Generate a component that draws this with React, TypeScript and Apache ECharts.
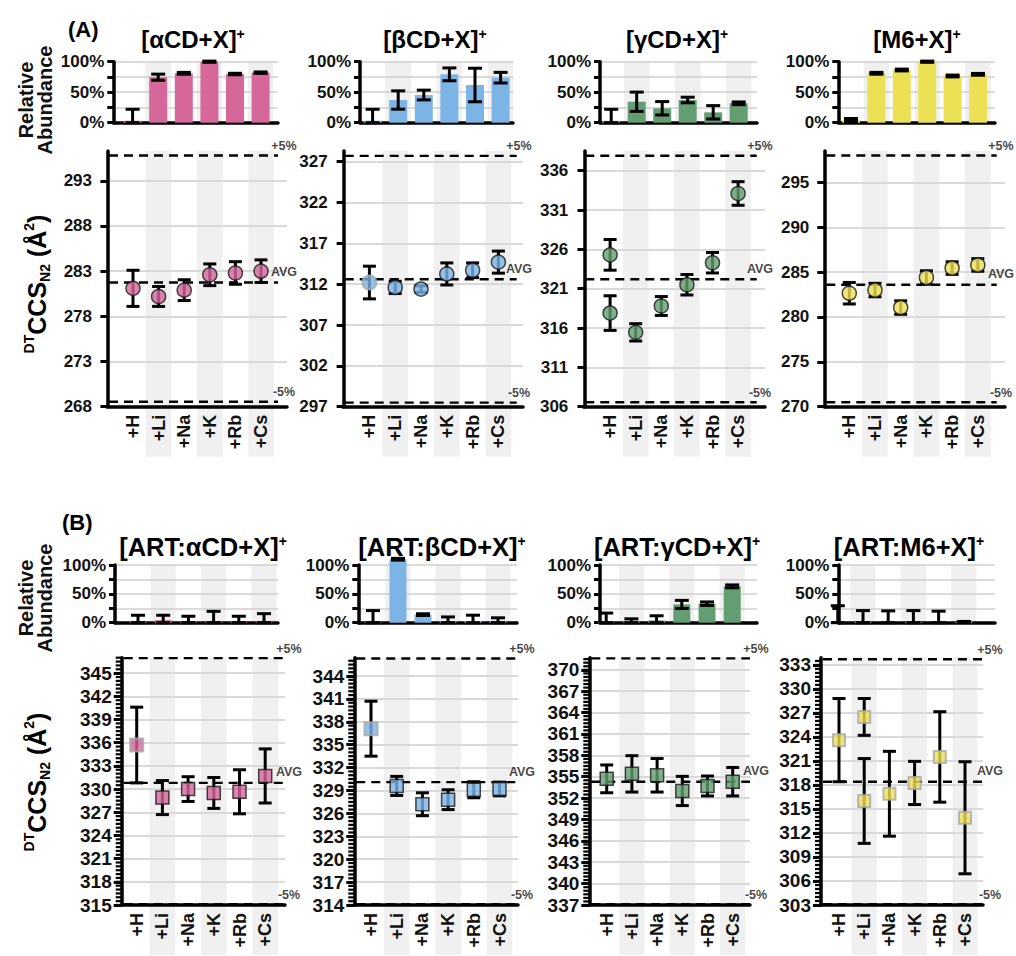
import React, { useEffect, useRef } from 'react';
import * as echarts from 'echarts';

const FONT = '"Liberation Sans", Arial, Helvetica, sans-serif';

// Cation adducts along every x axis
const ions = ['+H', '+Li', '+Na', '+K', '+Rb', '+Cs'];
// 1-based positions of the grey background bands (+Li, +K, +Cs)
const shadedPositions = [2, 4, 6];

// ---------- (A) host + X ----------
const abundAlpha = [3.3, 74.6, 81.0, 100, 79.8, 82.0];
const abundAlphaErr = [18.7, 5.0, 1.5, 1.0, 1.2, 1.2];
const ccsAlpha = [281.1, 280.2, 280.9, 282.6, 282.8, 283.0];
const ccsAlphaErr = [2.0, 1.1, 1.15, 1.2, 1.25, 1.25];
const ticksAlpha = [268, 273, 278, 283, 288, 293];

const abundBeta = [3.3, 37.2, 45.4, 79.3, 61.8, 73.8];
const abundBetaErr = [18.7, 15.0, 8.0, 10.5, 27.5, 8.7];
const ccsBeta = [312.2, 311.6, 311.4, 313.25, 313.7, 314.7];
const ccsBetaErr = [2.0, 0.75, 0.4, 1.35, 0.9, 1.35];
const ticksBeta = [297, 302, 307, 312, 317, 322, 327];

const abundGamma = [3.0, 34.4, 23.6, 37.2, 17.0, 31.8];
const abundGammaErr = [19.0, 15.8, 11.0, 4.6, 11.0, 2.2];
const ccsGamma = [325.3, 315.45, 318.8, 321.5, 324.3, 333.1];
const ccsGammaErr = [1.95, 1.1, 1.2, 1.3, 1.3, 1.5];
const ccsGammaAlt = [317.9, null, null, null, null, null];
const ccsGammaAltErr = [2.2, null, null, null, null, null];
const ticksGamma = [306, 311, 316, 321, 326, 331, 336];

const abundM6 = [4.4, 81.0, 86.4, 100, 76.6, 79.3];
const abundM6Err = [2.5, 1.5, 1.5, 1.0, 1.5, 1.5];
const ccsM6 = [282.65, 283.0, 281.05, 284.4, 285.45, 285.8];
const ccsM6Err = [1.2, 0.75, 0.75, 0.75, 0.7, 0.7];
const ticksM6 = [270, 275, 280, 285, 290, 295];

// ---------- (B) ART:host + X ----------
const abundArtAlpha = [1.5, 4.5, 1.5, 1.5, 1.5, 1.5];
const abundArtAlphaErr = [11.4, 8.4, 9.7, 18.2, 9.7, 14.2];
const ccsArtAlpha = [335.7, 328.9, 330.0, 329.5, 329.65, 331.7];
const ccsArtAlphaErr = [4.9, 2.2, 1.6, 2.0, 2.85, 3.5];
const ticksArtAlpha = [315, 318, 321, 324, 327, 330, 333, 336, 339, 342, 345];

const abundArtBeta = [1.0, 110, 14.0, 2.0, 3.0, 2.0];
const abundArtBetaErr = [20.0, 1.5, 1.5, 8.0, 10.0, 6.5];
const ccsArtBeta = [337.1, 329.6, 327.2, 327.8, 329.1, 329.2];
const ccsArtBetaErr = [3.6, 1.25, 1.5, 1.3, 1.05, 0.9];
const ticksArtBeta = [314, 317, 320, 323, 326, 329, 332, 335, 338, 341, 344];

const abundArtGamma = [1.0, 2.0, 4.0, 31.7, 33.0, 63.0];
const abundArtGammaErr = [15.7, 4.7, 8.0, 7.0, 3.0, 2.5];
const ccsArtGamma = [354.7, 355.4, 355.2, 353.0, 353.7, 354.3];
const ccsArtGammaErr = [1.95, 2.55, 2.35, 2.05, 1.4, 2.0];
const ticksArtGamma = [337, 340, 343, 346, 349, 352, 355, 358, 361, 364, 367, 370];

const abundArtM6 = [0, 1.0, 0, 1.0, 0, 1.5];
const abundArtM6Err = [29.4, 20.0, 20.5, 20.0, 20.0, 0.7];
const ccsArtM6 = [323.6, 326.5, 316.9, 318.25, 321.5, 313.9];
const ccsArtM6Err = [5.2, 2.3, 5.3, 2.7, 5.65, 7.0];
const ccsArtM6Alt = [null, 316.0, null, null, null, null];
const ccsArtM6AltErr = [null, 5.3, null, null, null, null];
const ticksArtM6 = [303, 306, 309, 312, 315, 318, 321, 324, 327, 330, 333];

// average CCS and ±5% reference levels per panel
const avgLevels = [281.75, 312.6, 322.2, 283.6, 330.8, 330.1, 354.3, 318.4];
const plusLevels = [295.8, 327.7, 337.9, 298.0, 346.95, 346.3, 371.6, 333.7];
const minusLevels = [268.55, 297.5, 306.56, 270.5, 315.1, 314.1, 337.1, 303.1];
const axisTops = [296.3, 328.3, 338.5, 298.5, 347.0, 346.4, 371.7, 333.9];

const abundTicks = [0, 25, 50, 75, 100];
const abundLabels = [0, 50, 100];

const PINK = '#d5679a';
const BLUE = '#7cb4e6';
const GREEN = '#639e72';
const YELLOW = '#ece154';

type Row = {
  barTop: number; barBottom: number; scTop: number; scBottom: number; bandExt: number;
  titleSize: number; tickSize: number;
};
const rowA: Row = { barTop: 61.7, barBottom: 122.7, scTop: 151, scBottom: 406.7, bandExt: 50, titleSize: 24, tickSize: 17 };
const rowB: Row = { barTop: 565, barBottom: 622.7, scTop: 657.7, scBottom: 905, bandExt: 50, titleSize: 25.5, tickSize: 19 };

type XMap = { x0: number; step: number; left: number; right: number };

interface Panel {
  title: string;
  titleX: number;
  titleY: number;
  color: string;
  symbol: string;
  symbolSize: number;
  abund: number[];
  abundErr: number[];
  ccs: number[];
  ccsErr: number[];
  ccsAlt?: (number | null)[];
  ccsAltErr?: (number | null)[];
  faint: boolean[];
  ticks: number[];
  minor: boolean;
  row: Row;
  s: XMap & { lineEnd: number; label: number };
  b: XMap;
  barWidth: number;
}

const F = false;
const T = true;

const panels: Panel[] = [
  {
    title: '[αCD+X]', titleX: 193, titleY: 39, color: PINK, symbol: 'circle', symbolSize: 14,
    abund: abundAlpha, abundErr: abundAlphaErr, ccs: ccsAlpha, ccsErr: ccsAlphaErr,
    faint: [F, F, F, F, F, F], ticks: ticksAlpha, minor: false, row: rowA,
    s: { x0: 107.4, step: 25.6, left: 107, right: 287, lineEnd: 278, label: 284 },
    b: { x0: 107, step: 25.6, left: 113.3, right: 278 }, barWidth: 18,
  },
  {
    title: '[βCD+X]', titleX: 435, titleY: 39, color: BLUE, symbol: 'circle', symbolSize: 14,
    abund: abundBeta, abundErr: abundBetaErr, ccs: ccsBeta, ccsErr: ccsBetaErr,
    faint: [T, F, F, F, F, F], ticks: ticksBeta, minor: false, row: rowA,
    s: { x0: 343.6, step: 25.8, left: 342.7, right: 523, lineEnd: 516.7, label: 519 },
    b: { x0: 347, step: 25.6, left: 360, right: 513 }, barWidth: 18,
  },
  {
    title: '[γCD+X]', titleX: 677, titleY: 39, color: GREEN, symbol: 'circle', symbolSize: 14,
    abund: abundGamma, abundErr: abundGammaErr, ccs: ccsGamma, ccsErr: ccsGammaErr,
    ccsAlt: ccsGammaAlt, ccsAltErr: ccsGammaAltErr,
    faint: [F, F, F, F, F, F], ticks: ticksGamma, minor: false, row: rowA,
    s: { x0: 584.5, step: 25.6, left: 583.3, right: 765, lineEnd: 756.7, label: 760 },
    b: { x0: 585.7, step: 25.5, left: 600, right: 757 }, barWidth: 18,
  },
  {
    title: '[M6+X]', titleX: 917, titleY: 39, color: YELLOW, symbol: 'circle', symbolSize: 14,
    abund: abundM6, abundErr: abundM6Err, ccs: ccsM6, ccsErr: ccsM6Err,
    faint: [F, F, F, F, F, F], ticks: ticksM6, minor: false, row: rowA,
    s: { x0: 823.6, step: 25.7, left: 824.3, right: 1005, lineEnd: 996.7, label: 1001 },
    b: { x0: 825.6, step: 25.4, left: 838.3, right: 995 }, barWidth: 18,
  },
  {
    title: '[ART:αCD+X]', titleX: 203, titleY: 547, color: PINK, symbol: 'rect', symbolSize: 13,
    abund: abundArtAlpha, abundErr: abundArtAlphaErr, ccs: ccsArtAlpha, ccsErr: ccsArtAlphaErr,
    faint: [T, F, F, F, F, F], ticks: ticksArtAlpha, minor: true, row: rowB,
    s: { x0: 111, step: 25.7, left: 121.7, right: 285, lineEnd: 283, label: 289 },
    b: { x0: 112.8, step: 25.2, left: 115, right: 278 }, barWidth: 17,
  },
  {
    title: '[ART:βCD+X]', titleX: 442, titleY: 547, color: BLUE, symbol: 'rect', symbolSize: 13,
    abund: abundArtBeta, abundErr: abundArtBetaErr, ccs: ccsArtBeta, ccsErr: ccsArtBetaErr,
    faint: [T, F, F, F, F, F], ticks: ticksArtBeta, minor: true, row: rowB,
    s: { x0: 345.3, step: 25.7, left: 354.3, right: 518, lineEnd: 518, label: 522 },
    b: { x0: 348, step: 25, left: 358.3, right: 517 }, barWidth: 17,
  },
  {
    title: '[ART:γCD+X]', titleX: 677, titleY: 547, color: GREEN, symbol: 'rect', symbolSize: 13,
    abund: abundArtGamma, abundErr: abundArtGammaErr, ccs: ccsArtGamma, ccsErr: ccsArtGammaErr,
    faint: [F, F, F, F, F, F], ticks: ticksArtGamma, minor: true, row: rowB,
    s: { x0: 581.5, step: 25.2, left: 589.3, right: 750, lineEnd: 750, label: 756 },
    b: { x0: 581, step: 25.2, left: 600, right: 757 }, barWidth: 17,
  },
  {
    title: '[ART:M6+X]', titleX: 909, titleY: 547, color: YELLOW, symbol: 'rect', symbolSize: 12,
    abund: abundArtM6, abundErr: abundArtM6Err, ccs: ccsArtM6, ccsErr: ccsArtM6Err,
    ccsAlt: ccsArtM6Alt, ccsAltErr: ccsArtM6AltErr,
    faint: [T, T, T, T, T, T], ticks: ticksArtM6, minor: true, row: rowB,
    s: { x0: 813.8, step: 25.2, left: 821, right: 983, lineEnd: 995, label: 990 },
    b: { x0: 812.6, step: 25.2, left: 838.3, right: 995 }, barWidth: 17,
  },
];

const toVal = (m: XMap, px: number) => (px - m.x0) / m.step;

function errorBarRender(cap: number) {
  return (_params: any, api: any) => {
    const x = api.value(0);
    const lo = api.coord([x, api.value(1)]);
    const hi = api.coord([x, api.value(2)]);
    const style = { stroke: '#000', lineWidth: 3 };
    return {
      type: 'group',
      children: [
        { type: 'line', shape: { x1: lo[0], y1: lo[1], x2: hi[0], y2: hi[1] }, style },
        { type: 'line', shape: { x1: hi[0] - cap, y1: hi[1], x2: hi[0] + cap, y2: hi[1] }, style },
        { type: 'line', shape: { x1: lo[0] - cap, y1: lo[1], x2: lo[0] + cap, y2: lo[1] }, style },
      ],
    };
  };
}

// short outward tick at the y axis for every minor value
function minorTickRender(len: number) {
  return (_params: any, api: any) => {
    const p = api.coord([api.value(0), api.value(1)]);
    return {
      type: 'line',
      shape: { x1: p[0] - len, y1: p[1], x2: p[0], y2: p[1] },
      style: { stroke: '#000', lineWidth: 2.2 },
    };
  };
}

function bandRender(bottomVal: number, ext: number) {
  return (_params: any, api: any) => {
    const k = api.value(0);
    const a = api.coord([k - 0.5, api.value(1)]);
    const b = api.coord([k + 0.5, bottomVal]);
    return {
      type: 'rect',
      shape: { x: a[0], y: a[1], width: b[0] - a[0], height: b[1] - a[1] + ext },
      style: { fill: '#f0f0f0' },
    };
  };
}

const tickLabelStyle = (size: number) => ({ color: '#111', fontWeight: 'bold', fontSize: size, fontFamily: FONT });

function buildOption() {
  const grid: any[] = [];
  const xAxis: any[] = [];
  const yAxis: any[] = [];
  const series: any[] = [];

  panels.forEach((p, i) => {
    // ---------------- abundance bars ----------------
    const gb = grid.length;
    grid.push({ left: p.b.left, top: p.row.barTop, width: p.b.right - p.b.left, height: p.row.barBottom - p.row.barTop });
    xAxis.push({
      gridIndex: gb, type: 'value', min: toVal(p.b, p.b.left), max: toVal(p.b, p.b.right),
      axisLine: { show: true, onZero: false, lineStyle: { color: '#000', width: 3.5 } },
      axisTick: { show: false }, axisLabel: { show: false }, splitLine: { show: false },
    });
    const yb = yAxis.length;
    yAxis.push({
      gridIndex: gb, type: 'value', min: 0, max: 100, position: 'left',
      axisLine: { show: true, lineStyle: { color: '#000', width: 3.5 } },
      axisTick: { show: true, customValues: abundTicks, length: 6, lineStyle: { color: '#000', width: 3 } },
      axisLabel: { customValues: abundLabels, formatter: (v: number) => `${v}%`, margin: 9, ...tickLabelStyle(17) },
      splitLine: { show: true, lineStyle: { color: '#cfcfcf', width: 1.5 } },
    });
    series.push({
      type: 'custom', xAxisIndex: gb, yAxisIndex: yb, z: -1, silent: true,
      renderItem: bandRender(0, 0), encode: { x: 0, y: 1 },
      data: shadedPositions.map((k) => [k, 100]),
    });
    series.push({
      type: 'bar', xAxisIndex: gb, yAxisIndex: yb, barWidth: p.barWidth, clip: false, silent: true,
      itemStyle: { color: p.color },
      data: p.abund.map((v, k) => [k + 1, v]),
    });
    series.push({
      type: 'custom', xAxisIndex: gb, yAxisIndex: yb, z: 4, silent: true, clip: false,
      renderItem: errorBarRender(7), encode: { x: 0, y: [1, 2] },
      data: p.abund.map((v, k) => [k + 1, Math.max(0, v - p.abundErr[k]), v + p.abundErr[k]]),
    });

    // ---------------- CCS panel ----------------
    const gs = grid.length;
    const yMin = p.ticks[0];
    const yMax = axisTops[i];
    const xLo = toVal(p.s, p.s.left);
    grid.push({ left: p.s.left, top: p.row.scTop, width: p.s.right - p.s.left, height: p.row.scBottom - p.row.scTop });
    xAxis.push({
      gridIndex: gs, type: 'value', min: xLo, max: toVal(p.s, p.s.right),
      axisLine: { show: true, onZero: false, lineStyle: { color: '#000', width: 3.5 } },
      axisTick: { show: false }, splitLine: { show: false },
      axisLabel: {
        customValues: [1, 2, 3, 4, 5, 6], formatter: (v: number) => ions[Math.round(v) - 1],
        rotate: 90, margin: 8, color: '#111', fontWeight: 'bold', fontSize: 18, fontFamily: FONT,
      },
    });
    const ys = yAxis.length;
    yAxis.push({
      gridIndex: gs, type: 'value', min: yMin, max: yMax, position: 'left',
      axisLine: { show: true, lineStyle: { color: '#000', width: 3.5 } },
      axisTick: { show: true, customValues: p.ticks, length: p.minor ? 8 : 7, lineStyle: { color: '#000', width: 3 } },
      axisLabel: { customValues: p.ticks, margin: p.minor ? 10 : 15, ...tickLabelStyle(p.row.tickSize) },
      splitLine: { show: true, lineStyle: { color: '#d9d9d9', width: 2 } },
    });
    series.push({
      type: 'custom', xAxisIndex: gs, yAxisIndex: ys, z: -1, silent: true,
      renderItem: bandRender(yMin, p.row.bandExt), encode: { x: 0, y: 1 },
      data: shadedPositions.map((k) => [k, yMax]),
    });
    if (p.minor) {
      const minorVals: number[][] = [];
      for (let v = yMin; v <= yMax + 1e-9; v += 0.5) minorVals.push([xLo, v]);
      series.push({
        type: 'custom', xAxisIndex: gs, yAxisIndex: ys, z: 6, silent: true, clip: false,
        renderItem: minorTickRender(6), encode: { x: 0, y: 1 },
        data: minorVals,
      });
    }

    const xs = toVal(p.s, p.s.left + 2);
    const xe = toVal(p.s, p.s.lineEnd);
    const labX = toVal(p.s, p.s.label);
    const levels: [number, string, number][] = [
      [plusLevels[i], '+5%', 3],
      [avgLevels[i], 'AVG', 4],
      [minusLevels[i], '-5%', 3],
    ];
    levels.forEach(([lv]) => {
      series.push({
        type: 'line', xAxisIndex: gs, yAxisIndex: ys, z: 3, silent: true, symbol: 'none', clip: false,
        lineStyle: { color: '#000', width: 2.4, type: [9, 6] },
        data: [[xs, lv], [xe, lv]],
      });
    });
    levels.forEach(([lv, txt, dist]) => {
      series.push({
        type: 'scatter', xAxisIndex: gs, yAxisIndex: ys, z: 3, silent: true, symbolSize: 0, clip: false,
        data: [[labX, lv]],
        label: {
          show: true, position: 'top', distance: dist, formatter: txt,
          color: '#111', fontSize: 12.5, fontWeight: 'bold', fontFamily: FONT,
        },
      });
    });

    const errData = p.ccs.map((v, k) => [k + 1, v - p.ccsErr[k], v + p.ccsErr[k]]);
    const markData: any[] = p.ccs.map((v, k) => ({
      value: [k + 1, v],
      itemStyle: { borderColor: p.faint[k] ? '#a8a8a8' : '#1a1a1a', borderWidth: p.faint[k] ? 2 : 1.5 },
    }));
    if (p.ccsAlt) {
      p.ccsAlt.forEach((v, k) => {
        if (v == null) return;
        const e = (p.ccsAltErr as number[])[k];
        errData.push([k + 1, v - e, v + e]);
        markData.push({
          value: [k + 1, v],
          itemStyle: { borderColor: p.faint[k] ? '#a8a8a8' : '#1a1a1a', borderWidth: p.faint[k] ? 2 : 1.5 },
        });
      });
    }
    series.push({
      type: 'custom', xAxisIndex: gs, yAxisIndex: ys, z: 4, silent: true,
      renderItem: errorBarRender(6.5), encode: { x: 0, y: [1, 2] },
      data: errData,
    });
    series.push({
      type: 'scatter', xAxisIndex: gs, yAxisIndex: ys, z: 5, silent: true,
      symbol: p.symbol, symbolSize: p.symbolSize,
      itemStyle: { color: p.color },
      data: markData,
    });
  });

  const titleRich = (size: number) => ({
    t: { fontSize: size, fontWeight: 'bold', fontFamily: FONT, fill: '#000', color: '#000' },
    s: { fontSize: 14, fontWeight: 'bold', fontFamily: FONT, fill: '#000', color: '#000', verticalAlign: 'top' },
  });
  const ccsRich = {
    b: { fontSize: 25, fontWeight: 'bold', fontFamily: FONT, fill: '#000', lineHeight: 30 },
    sup: { fontSize: 14, fontWeight: 'bold', fontFamily: FONT, fill: '#000', verticalAlign: 'top' },
    sub: { fontSize: 14, fontWeight: 'bold', fontFamily: FONT, fill: '#000', verticalAlign: 'bottom' },
  };

  const graphic: any[] = [];
  panels.forEach((p) => {
    graphic.push({
      type: 'text', x: p.titleX, y: p.titleY,
      style: { text: `{t|${p.title}}{s|+}`, rich: titleRich(p.row.titleSize), align: 'center', verticalAlign: 'middle' },
    });
  });
  [
    ['(A)', 68, 29],
    ['(B)', 62, 522],
  ].forEach(([txt, x, y]) => {
    graphic.push({
      type: 'text', x, y,
      style: { text: txt, fontSize: 22, fontWeight: 'bold', fontFamily: FONT, fill: '#000', align: 'left', verticalAlign: 'middle' },
    });
  });
  [100, 598].forEach((y) => {
    graphic.push({
      type: 'text', x: 35, y, rotation: Math.PI / 2,
      style: {
        text: 'Relative\nAbundance', fontSize: 20, lineHeight: 19, fontWeight: 'bold', fontFamily: FONT,
        fill: '#111', align: 'center', verticalAlign: 'middle',
      },
    });
  });
  [284, 782].forEach((y) => {
    graphic.push({
      type: 'text', x: 37, y, rotation: Math.PI / 2,
      style: {
        text: '{sup|DT}{b|CCS}{sub|N2}{b| (Å}{sup|2}{b|)}', rich: ccsRich,
        align: 'center', verticalAlign: 'middle',
      },
    });
  });

  return { animation: false, grid, xAxis, yAxis, series, graphic };
}

export default function App() {
  const ref = useRef<HTMLDivElement>(null);
  useEffect(() => {
    if (!ref.current) return;
    const chart = echarts.init(ref.current, undefined, { renderer: 'svg' });
    chart.setOption(buildOption() as any);
    return () => chart.dispose();
  }, []);
  return (
    <div
      ref={ref}
      style={{ position: 'absolute', left: 0, top: 0, width: 1016, height: 956, background: '#fff' }}
    />
  );
}
